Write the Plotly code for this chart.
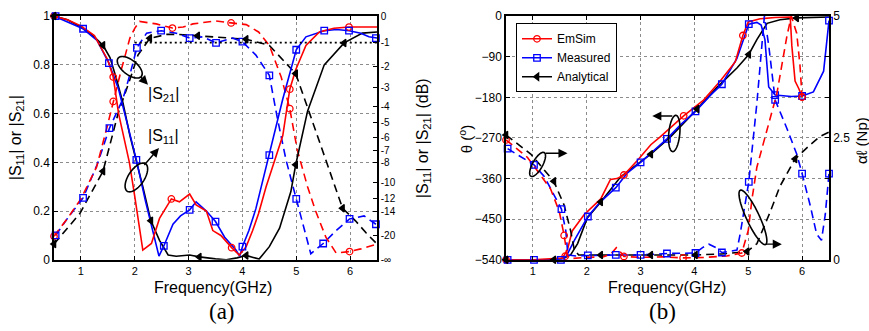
import numpy as np
import plotly.graph_objects as go

# ---------------- DATA : panel (a)  |S11| (solid) and |S21| (dashed), linear magnitude ----------------
f_s11_em = [0.5,0.75,1.0,1.25,1.5,1.6,1.7,1.8,1.9,2.0,2.09,2.15,2.31,2.46,2.68,2.83,3.02,3.14,3.33,3.45,3.6,3.8,3.94,4.07,4.19,4.3,4.44,4.62,4.75,4.88,4.99,5.18,5.43,5.7,5.98,6.5]
v_s11_em = [1.0,0.985,0.96,0.92,0.82,0.75,0.60,0.50,0.40,0.26,0.12,0.04,0.067,0.17,0.25,0.238,0.27,0.225,0.2,0.12,0.10,0.05,0.02,0.054,0.12,0.19,0.30,0.42,0.51,0.70,0.78,0.88,0.935,0.95,0.955,0.955]
f_s11_me = [0.5,0.61,1.04,1.3,1.52,1.7,1.85,2.03,2.2,2.34,2.45,2.54,2.71,2.85,3.02,3.14,3.33,3.5,3.67,3.88,3.95,4.0,4.12,4.25,4.5,4.75,5.0,5.18,5.52,5.75,5.98,6.2,6.35,6.5]
v_s11_me = [1.0,0.99,0.948,0.90,0.807,0.70,0.57,0.41,0.24,0.12,0.015,0.057,0.146,0.18,0.205,0.238,0.2,0.157,0.093,0.04,0.015,0.054,0.12,0.21,0.43,0.66,0.862,0.915,0.94,0.945,0.94,0.93,0.915,0.91]
f_s11_an = [0.5,0.75,1.0,1.2,1.41,1.54,1.65,1.78,1.91,2.03,2.15,2.3,2.46,2.62,2.77,3.02,3.2,3.5,3.7,3.9,4.07,4.2,4.31,4.5,4.69,4.9,4.99,5.21,5.52,5.89,6.23,6.5]
v_s11_an = [1.0,0.985,0.955,0.925,0.88,0.83,0.75,0.645,0.51,0.41,0.30,0.16,0.08,0.02,0.015,0.02,0.012,0.004,0.0,0.008,0.018,0.01,0.003,0.054,0.13,0.28,0.39,0.61,0.80,0.89,0.93,0.935]

f_s21_em = [0.5,0.75,1.0,1.29,1.48,1.6,1.75,1.91,2.0,2.09,2.4,2.7,2.9,3.08,3.5,3.79,4.07,4.3,4.5,4.72,4.88,5.02,5.21,5.36,5.55,5.74,5.99,6.2,6.5]
v_s21_em = [0.097,0.17,0.25,0.38,0.54,0.65,0.78,0.91,0.95,0.978,0.968,0.951,0.955,0.968,0.98,0.972,0.965,0.935,0.88,0.75,0.62,0.45,0.30,0.2,0.093,0.028,0.034,0.045,0.065]
f_s21_me = [0.53,0.75,1.04,1.3,1.53,1.78,1.91,2.04,2.22,2.49,2.77,3.02,3.26,3.51,3.82,4.0,4.25,4.5,4.65,4.81,5.0,5.18,5.27,5.5,5.74,5.99,6.26,6.48]
v_s21_me = [0.10,0.17,0.254,0.39,0.54,0.66,0.76,0.87,0.93,0.94,0.93,0.91,0.915,0.89,0.91,0.895,0.84,0.757,0.58,0.41,0.25,0.093,0.025,0.067,0.12,0.168,0.18,0.146]
f_s21_an = [0.5,0.98,1.41,1.69,1.91,2.06,2.28,2.6,2.8,3.17,3.45,3.7,4.07,4.5,4.99,5.24,5.55,5.86,6.1,6.3,6.5]
v_s21_an = [0.065,0.19,0.363,0.60,0.74,0.84,0.909,0.925,0.925,0.919,0.915,0.909,0.905,0.88,0.764,0.606,0.41,0.212,0.16,0.11,0.065]

# marker positions (a)
mk_s11_em_f = [0.5,1.6,2.68,3.8,4.88,5.98];  mk_s11_em_v = [1.0,0.75,0.25,0.05,0.70,0.955]
mk_s21_em_f = [0.5,1.6,2.7,3.79,4.88,5.99];  mk_s21_em_v = [0.097,0.65,0.951,0.972,0.62,0.034]
mk_s11_me_f = [0.53,1.04,1.52,2.03,2.54,3.02,3.5,4.0,4.5,5.0,5.52,5.98,6.48]
mk_s11_me_v = [1.0,0.948,0.807,0.41,0.057,0.205,0.157,0.054,0.43,0.862,0.94,0.94,0.91]
mk_s21_me_f = [0.53,1.04,1.53,2.04,2.49,3.02,3.51,4.0,4.5,5.0,5.5,5.99,6.48]
mk_s21_me_v = [0.10,0.254,0.54,0.87,0.94,0.91,0.89,0.895,0.757,0.25,0.067,0.168,0.146]
mk_s11_an_f = [0.5,1.41,2.3,3.2,4.07,4.99,5.89];  mk_s11_an_v = [1.0,0.88,0.16,0.012,0.018,0.39,0.89]
mk_s21_an_f = [0.5,1.41,2.28,3.17,4.07,4.99,5.86]; mk_s21_an_v = [0.065,0.363,0.909,0.919,0.905,0.764,0.212]

db_ticks = [0,-1,-2,-3,-4,-5,-6,-7,-8,-10,-12,-14,-20]
ref_db = -1
ref_f = [2.0, 6.5]

# ---------------- DATA : panel (b)  theta (deg, solid) and alpha*l (Np, dashed) ----------------
f_th_em = [0.5,1.0,1.55,1.64,1.73,1.95,2.26,2.44,2.56,2.69,2.94,3.19,3.37,3.56,3.8,4.17,4.48,4.76,4.9,5.0,5.22,5.5,5.78,5.81,5.87,5.94,6.0]
th_em   = [-540,-540,-536,-518,-476,-440,-405,-362,-360,-352,-320,-285,-267,-246,-221,-186,-144,-101,-43,-13,-6,-3,-2,-66,-144,-161,-179]
f_th_me = [0.5,1.0,1.52,1.62,1.77,2.02,2.25,2.54,2.75,3.0,3.31,3.49,3.75,4.02,4.3,4.51,4.79,5.01,5.16,5.24,5.31,5.38,5.5,5.8,6.0,6.21,6.4,6.46,6.5]
th_me   = [-540,-540,-540,-532,-497,-444,-412,-380,-348,-324,-292,-272,-240,-211,-175,-151,-94,-18,-14,-20,-52,-157,-175,-178,-177,-168,-122,-52,-10]
f_th_an = [0.5,1.0,1.4,1.58,1.70,1.83,2.01,2.26,2.63,3.19,3.56,4.05,4.42,4.79,5.01,5.16,5.35,5.59,5.9,6.5]
th_an   = [-540,-540,-540,-536,-529,-504,-447,-412,-356,-306,-267,-206,-158,-115,-85,-52,-16,-8,-4,-2]

f_al_em = [0.5,0.9,1.1,1.33,1.49,1.58,1.64,1.75,2.0,2.3,2.45,2.55,2.6,2.69,3.0,3.4,3.79,4.2,4.6,4.88,5.0,5.07,5.16,5.35,5.53,5.72,5.8,5.9,5.96,6.0]
al_em   = [2.46,2.1,1.8,1.45,0.99,0.5,0.07,0.03,0.05,0.06,0.12,0.25,0.2,0.07,0.05,0.06,0.04,0.05,0.08,0.14,0.6,1.25,1.9,2.69,3.4,4.6,5.0,4.65,4.0,3.34]
f_al_me = [0.53,0.8,1.02,1.21,1.53,1.61,1.65,1.8,2.02,2.54,3.0,3.49,4.02,4.15,4.27,4.4,4.51,4.79,4.85,5.01,5.16,5.3,5.38,5.46,5.5,5.72,5.9,6.0,6.15,6.27,6.36,6.43,6.5]
al_me   = [2.28,2.1,1.95,1.71,1.04,0.6,0.1,0.08,0.09,0.1,0.1,0.13,0.14,0.25,0.32,0.25,0.15,0.2,0.53,1.6,3.21,5.0,4.4,3.7,3.28,2.69,2.17,1.77,1.12,0.53,0.4,0.92,1.77]
f_al_an = [0.5,0.96,1.39,1.58,1.7,1.77,1.85,2.26,3.19,4.02,4.5,4.98,5.16,5.41,5.59,5.87,6.15,6.33,6.5]
al_an   = [2.56,2.17,1.61,1.12,0.6,0.2,0.1,0.1,0.1,0.1,0.12,0.17,0.33,0.99,1.51,2.07,2.36,2.53,2.62]

# marker positions (b)
mk_th_em_f = [0.5,1.6,2.69,3.8,4.9,6.0];   mk_th_em = [-540,-532,-352,-221,-43,-179]
mk_al_em_f = [0.5,1.58,2.69,3.79,4.88,6.0]; mk_al_em = [2.46,0.5,0.07,0.04,0.14,3.34]
mk_th_me_f = [0.53,1.02,1.52,2.02,2.54,3.0,3.49,4.02,4.51,5.01,5.5,6.0,6.5]
mk_th_me   = [-540,-540,-540,-444,-380,-324,-272,-211,-151,-18,-175,-177,-10]
mk_al_me_f = [0.53,1.02,1.53,2.02,2.54,3.0,3.49,4.02,4.51,5.01,5.5,6.0,6.5]
mk_al_me   = [2.28,1.95,1.04,0.09,0.1,0.1,0.13,0.14,0.15,1.6,3.28,1.77,1.77]
mk_th_an_f = [0.5,1.39,2.26,3.19,4.05,5.01,5.9]; mk_th_an = [-540,-540,-412,-306,-206,-85,-4]
mk_al_an_f = [0.5,1.39,2.26,3.19,4.02,4.98,5.87]; mk_al_an = [2.56,1.61,0.1,0.1,0.1,0.17,2.07]

theta_ticks = [-540,-450,-360,-270,-180,-90,0]
alpha_ticks = [0,2.5,5]
freq_ticks = [1,2,3,4,5,6]
series_names = ["EmSim","Measured","Analytical"]

# ---------------- LAYOUT GEOMETRY ----------------
W, H = 869, 331
AX0, AX1 = 54, 377
BX0, BX1 = 506, 829
PY0, PY1 = 9.5, 264
dom_a = [AX0/W, AX1/W]
dom_b = [BX0/W, BX1/W]
dom_y = [1-PY1/H, 1-PY0/H]
XR = [0.5, 6.5]

RED, BLUE, BLK = "#ff0000", "#0000ff", "#000000"
DASH = "8px,5px"
LW = 1.6
FONT = "Liberation Sans"

fig = go.Figure()

def line(x, y, color, dash, xa, ya):
    fig.add_trace(go.Scatter(x=x, y=y, mode="lines", xaxis=xa, yaxis=ya, showlegend=False,
                             line=dict(color=color, width=LW, dash=dash), hoverinfo="skip"))

def marks(x, y, color, symbol, xa, ya):
    fig.add_trace(go.Scatter(x=x, y=y, mode="markers", xaxis=xa, yaxis=ya, showlegend=False,
                             cliponaxis=False, hoverinfo="skip",
                             marker=dict(symbol=symbol, size=6.5, color=color,
                                         line=dict(color=color, width=1.3))))

# panel (a)
line(f_s21_an, v_s21_an, BLK, DASH, "x", "y")
line(f_s21_me, v_s21_me, BLUE, DASH, "x", "y")
line(f_s21_em, v_s21_em, RED, DASH, "x", "y")
line(f_s11_an, v_s11_an, BLK, "solid", "x", "y")
line(f_s11_me, v_s11_me, BLUE, "solid", "x", "y")
line(f_s11_em, v_s11_em, RED, "solid", "x", "y")
marks(mk_s11_em_f, mk_s11_em_v, RED, "circle-open", "x", "y")
marks(mk_s21_em_f, mk_s21_em_v, RED, "circle-open", "x", "y")
marks(mk_s11_me_f, mk_s11_me_v, BLUE, "square-open", "x", "y")
marks(mk_s21_me_f, mk_s21_me_v, BLUE, "square-open", "x", "y")
marks(mk_s11_an_f, mk_s11_an_v, BLK, "triangle-left", "x", "y")
marks(mk_s21_an_f, mk_s21_an_v, BLK, "triangle-left", "x", "y")
# -1 dB reference line on the dB axis
ref_lin = 10**(ref_db/20)
fig.add_trace(go.Scatter(x=ref_f, y=[ref_lin, ref_lin], mode="lines", xaxis="x", yaxis="y2",
                         showlegend=False, hoverinfo="skip",
                         line=dict(color=BLK, width=1.6, dash="2px,3px")))

# panel (b)
line(f_al_an, al_an, BLK, DASH, "x2", "y4")
line(f_al_me, al_me, BLUE, DASH, "x2", "y4")
line(f_al_em, al_em, RED, DASH, "x2", "y4")
line(f_th_an, th_an, BLK, "solid", "x2", "y3")
line(f_th_me, th_me, BLUE, "solid", "x2", "y3")
line(f_th_em, th_em, RED, "solid", "x2", "y3")
marks(mk_th_em_f, mk_th_em, RED, "circle-open", "x2", "y3")
marks(mk_al_em_f, mk_al_em, RED, "circle-open", "x2", "y4")
marks(mk_th_me_f, mk_th_me, BLUE, "square-open", "x2", "y3")
marks(mk_al_me_f, mk_al_me, BLUE, "square-open", "x2", "y4")
marks(mk_th_an_f, mk_th_an, BLK, "triangle-left", "x2", "y3")
marks(mk_al_an_f, mk_al_an, BLK, "triangle-left", "x2", "y4")

# legend entries
for name, col, sym in zip(series_names, [RED, BLUE, BLK], ["circle-open", "square-open", "triangle-left"]):
    fig.add_trace(go.Scatter(x=[None], y=[None], mode="lines+markers", name=name, xaxis="x2", yaxis="y3",
                             line=dict(color=col, width=LW),
                             marker=dict(symbol=sym, size=6.5, color=col, line=dict(color=col, width=1.3))))

# ---------------- annotation shapes (ellipses + arrows) ----------------
def ellipse(cx, cy, a_px, b_px, ang, yr, xref, yref):
    kx = (AX1-AX0)/(XR[1]-XR[0])
    ky = (PY1-PY0)/(yr[1]-yr[0])
    t = np.linspace(0, 2*np.pi, 72)
    r = np.radians(ang)
    dx = a_px*np.cos(t)*np.cos(r) - b_px*np.sin(t)*np.sin(r)
    dy = a_px*np.cos(t)*np.sin(r) + b_px*np.sin(t)*np.cos(r)
    xs = cx + dx/kx
    ys = cy + dy/ky
    p = "M " + " L ".join(f"{x:.4f},{y:.4f}" for x, y in zip(xs, ys)) + " Z"
    fig.add_shape(type="path", path=p, xref=xref, yref=yref, line=dict(color=BLK, width=1.6))

def arrow(x0, y0, x1, y1, xref, yref):
    fig.add_annotation(x=x1, y=y1, ax=x0, ay=y0, xref=xref, yref=yref, axref=xref, ayref=yref,
                       text="", showarrow=True, arrowhead=2, arrowsize=1.3, arrowwidth=1.4, arrowcolor=BLK)

YA = [0, 1]
YT = [-540, 0]
ellipse(1.907, 0.79, 15, 7.5, -40, YA, "x", "y")
ellipse(2.03, 0.338, 17, 8, 58, YA, "x", "y")
arrow(2.08, 0.757, 2.246, 0.718, "x", "y")
arrow(2.154, 0.383, 2.45, 0.459, "x", "y")
fig.add_annotation(x=2.54, y=0.677, xref="x", yref="y", text="|S<sub>21</sub>|", showarrow=False,
                   font=dict(family=FONT, size=16, color=BLK))
fig.add_annotation(x=2.54, y=0.504, xref="x", yref="y", text="|S<sub>11</sub>|", showarrow=False,
                   font=dict(family=FONT, size=16, color=BLK))

ellipse(1.087, -328.6, 14, 5, 62, YT, "x2", "y3")
arrow(1.209, -303.8, 1.643, -303.8, "x2", "y3")
ellipse(3.626, -260, 19, 5.5, 85, YT, "x2", "y3")
arrow(3.617, -221.2, 3.217, -221.2, "x2", "y3")
ellipse(5.087, -445.9, 31, 6.5, -66, YT, "x2", "y3")
arrow(5.296, -505.2, 5.624, -505.2, "x2", "y3")

# ---------------- text labels ----------------
def ptext(px, py, txt, size, angle=0, family=FONT):
    fig.add_annotation(x=px/W, y=1-py/H, xref="paper", yref="paper", text=txt, showarrow=False,
                       textangle=angle, xanchor="center", yanchor="middle",
                       font=dict(family=family, size=size, color=BLK))

ptext(213, 293, "Frequency(GHz)", 16)
ptext(667, 293, "Frequency(GHz)", 16)
ptext(222, 318, "(a)", 23, family="Liberation Serif")
ptext(662, 318, "(b)", 23, family="Liberation Serif")
ptext(16, 137, "|S<sub>11</sub>| or |S<sub>21</sub>|", 16, -90)
ptext(423, 137, "|S<sub>11</sub>| or |S<sub>21</sub>| (dB)", 16, -90)
ptext(465, 138, "θ (<sup>o</sup>)", 15, -90)
ptext(861, 140, "αℓ (Np)", 15, -90)

# ---------------- axes ----------------
axis_common = dict(showline=True, linecolor=BLK, linewidth=1.5, ticks="inside", ticklen=4,
                   tickcolor=BLK, zeroline=False, tickfont=dict(family=FONT, size=12, color=BLK))
xtickfont = dict(family=FONT, size=11, color=BLK)
grid = dict(showgrid=True, gridcolor="#8c8c8c", griddash="dot", gridwidth=1)

fig.update_layout(
    width=W, height=H, margin=dict(l=0, r=0, t=0, b=0),
    paper_bgcolor="white", plot_bgcolor="white",
    font=dict(family=FONT, color=BLK),
    xaxis=dict(domain=dom_a, range=XR, tickvals=freq_ticks, anchor="y", mirror="ticks",
               **{**axis_common, "tickfont": xtickfont}, **grid),
    yaxis=dict(domain=dom_y, range=[0, 1], tickvals=[0, 0.2, 0.4, 0.6, 0.8, 1],
               ticktext=["0", "0.2", "0.4", "0.6", "0.8", "1"], anchor="x", mirror=True, **axis_common, **grid),
    yaxis2=dict(range=[0, 1], overlaying="y", side="right", anchor="x",
                tickvals=[10**(d/20) for d in db_ticks] + [0],
                ticktext=[str(d) for d in db_ticks] + ["-∞"], showgrid=False,
                **{**axis_common, "tickfont": dict(family=FONT, size=10, color=BLK)}),
    xaxis2=dict(domain=dom_b, range=XR, tickvals=freq_ticks, anchor="y3", mirror="ticks",
                **{**axis_common, "tickfont": xtickfont}, **grid),
    yaxis3=dict(domain=dom_y, range=YT, tickvals=theta_ticks, anchor="x2", mirror="ticks", **axis_common, **grid),
    yaxis4=dict(range=[0, 5], overlaying="y3", side="right", anchor="x2", tickvals=alpha_ticks,
                ticktext=["0", "2.5", "5"], showgrid=False, **axis_common),
    legend=dict(x=516/W, y=1-17/H, xanchor="left", yanchor="top", bgcolor="white",
                bordercolor=BLK, borderwidth=1, font=dict(family=FONT, size=12, color=BLK),
                itemwidth=30, tracegroupgap=0),
    showlegend=True,
)

fig.write_html("out.html")
